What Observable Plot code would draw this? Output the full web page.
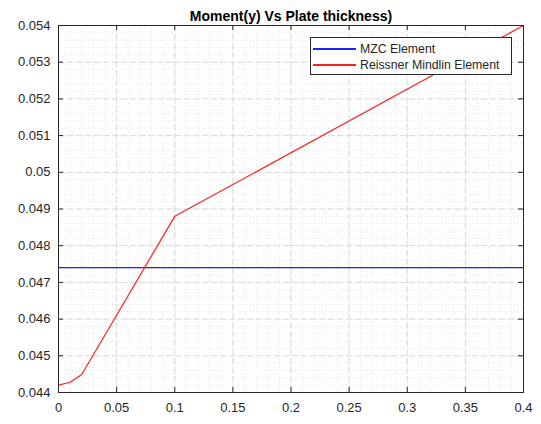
<!DOCTYPE html>
<html>
<head>
<meta charset="utf-8">
<script src="https://cdn.jsdelivr.net/npm/d3@7"></script>
<script src="https://cdn.jsdelivr.net/npm/@observablehq/plot@0.6"></script>
<style>
  html, body { margin: 0; padding: 0; background: #fff; }
  #wrap { position: relative; width: 541px; height: 424px; font-family: "Liberation Sans", Arial, sans-serif; }
  #legend { position: absolute; left: 310px; top: 37px; width: 202px; height: 38px; border: 1px solid #262626; background: #fff; font-size: 12.3px; color: #262626; box-sizing: border-box; }
  .row { position: absolute; left: 2px; height: 16px; display: flex; align-items: center; }
  .sw { width: 43px; height: 1.2px; margin-right: 4px; }
</style>
</head>
<body>
<div id="wrap"></div>
<script>
// Data
const thickness = [0, 0.01, 0.02, 0.1, 0.4];
const mindlin = [0.0442, 0.04428, 0.04449, 0.0488, 0.054];
const mzcThickness = [0, 0.4];
const mzc = [0.0474, 0.0474];
const xTicks = [0, 0.05, 0.1, 0.15, 0.2, 0.25, 0.3, 0.35, 0.4];
const yTicks = [0.044, 0.045, 0.046, 0.047, 0.048, 0.049, 0.05, 0.051, 0.052, 0.053, 0.054];
const xMinor = d3.range(0, 41).map(i => i / 100);
const yMinor = d3.range(0, 51).map(i => 0.044 + i * 0.0002);
const seriesNames = ["MZC Element", "Reissner Mindlin Element"];
const seriesColors = ["#1f1fff", "#ff1f1f"];
const title = "Moment(y) Vs Plate thickness)";

const mindlinData = thickness.map((t, i) => ({t, v: mindlin[i]}));
const mzcData = mzcThickness.map((t, i) => ({t, v: mzc[i]}));
const xMin = 0, xMax = 0.4, yMin = 0.044, yMax = 0.054;
const fmt = d => String(+d.toFixed(3));
const axisColor = "#262626";

const chart = Plot.plot({
  width: 541,
  height: 424,
  marginLeft: 58,
  marginRight: 18,
  marginTop: 25,
  marginBottom: 32,
  style: {fontFamily: "'Liberation Sans', Arial, sans-serif", background: "#fff", overflow: "visible"},
  x: {domain: [xMin, xMax]},
  y: {domain: [yMin, yMax]},
  marks: [
    Plot.ruleX(xMinor, {x: d => d, stroke: "#e6e6e6", strokeDasharray: "1,2"}),
    Plot.ruleY(yMinor, {y: d => d, stroke: "#e6e6e6", strokeDasharray: "1,2"}),
    Plot.ruleX(xTicks, {x: d => d, stroke: "#dadada", strokeDasharray: "6,3"}),
    Plot.ruleY(yTicks, {y: d => d, stroke: "#dadada", strokeDasharray: "6,3"}),
    Plot.line(mzcData, {x: "t", y: "v", stroke: seriesColors[0], strokeWidth: 1.2}),
    Plot.line(mindlinData, {x: "t", y: "v", stroke: seriesColors[1], strokeWidth: 1.2}),
    Plot.frame({stroke: axisColor, strokeWidth: 1}),
    // inward ticks
    Plot.ruleX(xTicks, {x: d => d, y1: yMin, y2: yMin, insetTop: -5, stroke: axisColor}),
    Plot.ruleX(xTicks, {x: d => d, y1: yMax, y2: yMax, insetBottom: -5, stroke: axisColor}),
    Plot.ruleY(yTicks, {y: d => d, x1: xMin, x2: xMin, insetRight: -5, stroke: axisColor}),
    Plot.ruleY(yTicks, {y: d => d, x1: xMax, x2: xMax, insetLeft: -5, stroke: axisColor}),
    Plot.axisX(xTicks, {tickSize: 0, tickPadding: 10, tickFormat: fmt, fontSize: 13, fill: axisColor, label: null}),
    Plot.axisY(yTicks, {tickSize: 0, tickPadding: 8, tickFormat: fmt, fontSize: 13, fill: axisColor, label: null}),
    Plot.text([title], {frameAnchor: "top", dy: -14, fontSize: 14, fontWeight: "bold", fill: "#000"})
  ]
});

const wrap = document.getElementById("wrap");
wrap.appendChild(chart);
const legend = document.createElement("div");
legend.id = "legend";
seriesNames.forEach((name, i) => {
  const row = document.createElement("div");
  row.className = "row";
  row.style.top = (3 + i * 16) + "px";
  const sw = document.createElement("div");
  sw.className = "sw";
  sw.style.backgroundColor = seriesColors[i];
  const tx = document.createElement("span");
  tx.textContent = name;
  row.appendChild(sw);
  row.appendChild(tx);
  legend.appendChild(row);
});
wrap.appendChild(legend);
</script>
</body>
</html>
